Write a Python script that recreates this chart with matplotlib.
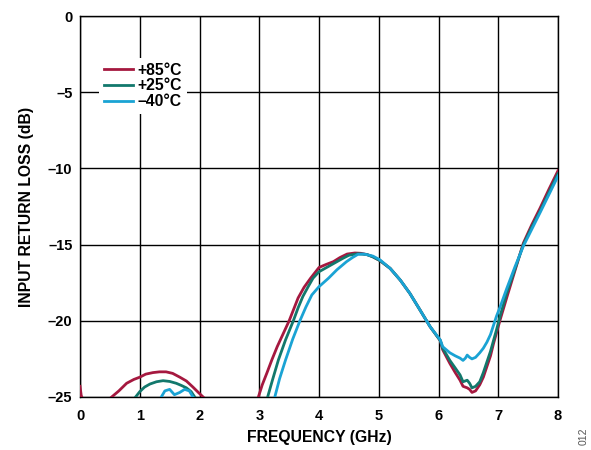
import matplotlib.pyplot as plt
import numpy as np

plt.rcParams['font.family'] = ['Liberation Sans', 'DejaVu Sans']
plt.rcParams['font.weight'] = 'bold'

# +85C trace, segments split with nan where it sits below -25 dB
f85 = [0.0, 0.02, 0.03, np.nan,
       0.53, 0.65, 0.78, 0.9, 1.0, 1.1, 1.22, 1.33, 1.44, 1.55, 1.67, 1.78, 1.89, 1.98, 2.06, np.nan,
       2.985, 3.05, 3.13, 3.21, 3.3, 3.4, 3.5, 3.58, 3.65, 3.75, 3.86, 4.0, 4.12, 4.24, 4.35, 4.47, 4.6, 4.7,
       4.8, 4.9, 5.02, 5.19, 5.36, 5.52, 5.69, 5.86, 6.03, 6.07, 6.19, 6.28, 6.36, 6.41, 6.48, 6.52, 6.56,
       6.62, 6.69, 6.75, 6.81, 6.87, 6.92, 6.97, 7.03, 7.14, 7.28, 7.42, 7.56, 7.7, 7.85, 8.0]
rl85 = [-24.3, -24.9, -25.0, np.nan,
        -25.0, -24.6, -24.1, -23.85, -23.7, -23.5, -23.4, -23.35, -23.35, -23.45, -23.7, -23.95, -24.35, -24.7, -25.0, np.nan,
        -25.0, -24.2, -23.4, -22.57, -21.7, -20.85, -20.0, -19.2, -18.5, -17.8, -17.2, -16.5, -16.3, -16.12, -15.85, -15.62, -15.55, -15.57,
        -15.65, -15.8, -16.05, -16.56, -17.33, -18.2, -19.29, -20.39, -21.3, -21.9, -22.8, -23.4, -23.9, -24.3, -24.4, -24.5, -24.7,
        -24.6, -24.2, -23.7, -23.0, -22.3, -21.5, -20.8, -19.95, -18.5, -16.7, -14.9, -13.7, -12.6, -11.35, -10.15]

# +25C trace
f25 = [0.93, 1.0, 1.08, 1.17, 1.28, 1.39, 1.5, 1.61, 1.7, 1.78, 1.86, 1.92, np.nan,
       3.14, 3.22, 3.32, 3.44, 3.57, 3.65, 3.73, 3.82, 3.9, 4.0, 4.15, 4.3, 4.4, 4.5, 4.65, 4.8,
       4.9, 5.02, 5.19, 5.36, 5.52, 5.69, 5.86, 6.03, 6.07, 6.19, 6.28, 6.36, 6.41, 6.48, 6.52, 6.56,
       6.62, 6.69, 6.75, 6.81, 6.87, 6.92, 6.97, 7.03, 7.14, 7.28, 7.42, 7.56, 7.7, 7.85, 8.0]
rl25 = [-25.0, -24.65, -24.35, -24.15, -24.0, -23.93, -23.98, -24.1, -24.25, -24.4, -24.65, -25.0, np.nan,
        -25.0, -23.9, -22.57, -21.25, -20.0, -19.15, -18.4, -17.75, -17.2, -16.78, -16.45, -16.12, -15.9, -15.7, -15.6, -15.65,
        -15.8, -16.05, -16.56, -17.33, -18.2, -19.29, -20.39, -21.3, -21.8, -22.6, -23.1, -23.55, -24.0, -23.9, -24.1, -24.4,
        -24.3, -24.0, -23.4, -22.7, -22.0, -21.3, -20.6, -19.7, -18.2, -16.6, -15.0, -13.85, -12.8, -11.55, -10.35]

# -40C trace
f40 = [1.36, 1.42, 1.5, 1.58, 1.67, 1.75, 1.83, 1.89, np.nan,
       3.26, 3.34, 3.44, 3.56, 3.68, 3.78, 3.88, 4.0, 4.16, 4.3, 4.46, 4.56, 4.65, 4.75, 4.9, 5.02,
       5.19, 5.36, 5.52, 5.69, 5.86, 6.03, 6.07, 6.19, 6.28, 6.36, 6.41, 6.45, 6.48, 6.52, 6.56,
       6.62, 6.69, 6.75, 6.81, 6.87, 6.92, 6.97, 7.03, 7.14, 7.28, 7.42, 7.56, 7.7, 7.85, 8.0]
rl40 = [-25.0, -24.6, -24.5, -24.85, -24.7, -24.5, -24.6, -25.0, np.nan,
        -25.0, -23.8, -22.57, -21.2, -20.0, -19.1, -18.3, -17.76, -17.2, -16.65, -16.12, -15.85, -15.64, -15.62, -15.75, -16.0,
        -16.56, -17.33, -18.2, -19.29, -20.39, -21.26, -21.7, -22.1, -22.3, -22.45, -22.6, -22.45, -22.25, -22.4, -22.5,
        -22.4, -22.1, -21.8, -21.4, -20.9, -20.3, -19.7, -19.1, -17.9, -16.45, -15.1, -14.0, -12.9, -11.7, -10.5]

fig = plt.figure(figsize=(5.91, 4.5), dpi=100)
ax = fig.add_axes([0.1354, 0.1178, 0.8088, 0.8466])

ax.plot(f85, rl85, color='#a5183f', lw=2.0, label='+85°C', zorder=3)
ax.plot(f25, rl25, color='#12786c', lw=2.0, label='+25°C', zorder=3)
ax.plot(f40, rl40, color='#1aa3d4', lw=2.0, label='\u201340°C', zorder=3)

ax.set_xlim(0, 8)
ax.set_ylim(-25, 0)
ax.set_xticks(range(0, 9))
ax.set_yticks([0, -5, -10, -15, -20, -25])
ax.set_yticklabels(['0', '\u20135', '\u201310', '\u201315', '\u201320', '\u201325'])
ax.tick_params(length=0, labelsize=10.5)
ax.tick_params(axis='x', pad=8.5)
ax.tick_params(axis='y', pad=5.5)
ax.grid(True, color='black', lw=1.0)
for s in ax.spines.values():
    s.set_color('black')
    s.set_linewidth(1.0)

ax.set_xlabel('FREQUENCY (GHz)', fontsize=11.3, fontweight='bold', labelpad=5)
ax.set_ylabel('INPUT RETURN LOSS (dB)', fontsize=11.3, fontweight='bold', labelpad=10)

leg = ax.legend(loc='upper left', bbox_to_anchor=(0.04, 0.89), frameon=True, fontsize=11.3,
                handlelength=1.85, handletextpad=0.3, labelspacing=0.05, borderpad=0.3,
                borderaxespad=0.0)
leg.get_frame().set_edgecolor('none')
leg.get_frame().set_facecolor('white')
leg.get_frame().set_alpha(1.0)
leg.set_zorder(5)

fig.text(0.987, 0.012, '012', rotation=90, fontsize=7.5, color='#555555',
         fontweight='normal', ha='center', va='bottom')

fig.savefig('out.png', dpi=100)
